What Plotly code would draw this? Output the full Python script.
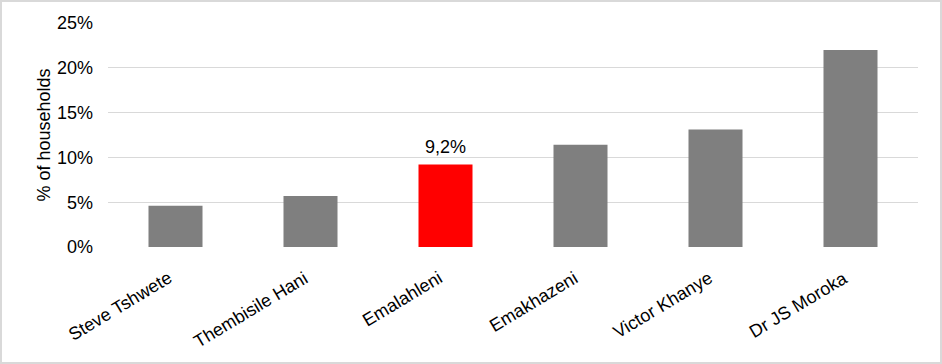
import plotly.graph_objects as go

categories = ["Steve Tshwete", "Thembisile Hani", "Emalahleni", "Emakhazeni", "Victor Khanye", "Dr JS Moroka"]
values = [0.046, 0.057, 0.092, 0.114, 0.131, 0.220]
highlight = "Emalahleni"
y_ticks = [0, 0.05, 0.10, 0.15, 0.20, 0.25]

GRAY = "#7f7f7f"
RED = "#ff0000"
FONT = "Arial, Liberation Sans, sans-serif"

colors = [RED if c == highlight else GRAY for c in categories]

W, H = 942, 364
L, R, T, B = 108, 24, 23, 117
pw, ph = W - L - R, H - T - B

fig = go.Figure(go.Bar(
    x=categories, y=values,
    marker=dict(color=colors, line=dict(width=0)),
    cliponaxis=False,
))

annotations = []
# category labels (rotated)
for c in categories:
    annotations.append(dict(
        x=c, y=-18 / ph, xref="x", yref="paper",
        text=c, textangle=-31, showarrow=False,
        xanchor="right", yanchor="top", xshift=3,
        font=dict(family=FONT, size=18, color="#000000"),
    ))
# data label on the highlighted bar
for c, v in zip(categories, values):
    if c == highlight:
        annotations.append(dict(
            x=c, y=v, xref="x", yref="y",
            text=f"{v * 100:.1f}%".replace(".", ","), showarrow=False,
            xanchor="center", yanchor="bottom", yshift=6,
            font=dict(family=FONT, size=18, color="#000000"),
        ))

fig.update_layout(
    width=W, height=H,
    margin=dict(l=L, r=R, t=T, b=B, autoexpand=False),
    paper_bgcolor="white", plot_bgcolor="white",
    separators=",.",
    bargap=0.6,
    showlegend=False,
    font=dict(family=FONT, size=18, color="#000000"),
    xaxis=dict(
        type="category", categoryorder="array", categoryarray=categories,
        range=[-0.5, len(categories) - 0.5], autorange=False,
        showticklabels=False, showgrid=False, showline=False, zeroline=False,
        ticks="", automargin=False,
    ),
    yaxis=dict(
        range=[0, 0.25], autorange=False, tickvals=y_ticks, tickformat=".0%",
        showgrid=True, gridcolor="#d9d9d9", gridwidth=1,
        zeroline=False, showline=False, ticks="", automargin=False,
        ticklabelstandoff=14,
        tickfont=dict(family=FONT, size=18, color="#000000"),
        title=dict(text="% of households", standoff=1,
                   font=dict(family=FONT, size=18, color="#000000")),
    ),
    annotations=annotations,
    shapes=[dict(
        type="rect", xref="paper", yref="paper",
        x0=-(L - 1) / pw, x1=1 + (R - 1) / pw,
        y0=-(B - 1) / ph, y1=1 + (T - 1) / ph,
        line=dict(color="#d9d9d9", width=2), fillcolor="rgba(0,0,0,0)",
        layer="below",
    )],
)

fig.write_html("out.html", config={"displayModeBar": False},
               post_script="document.body.style.margin='0';")
